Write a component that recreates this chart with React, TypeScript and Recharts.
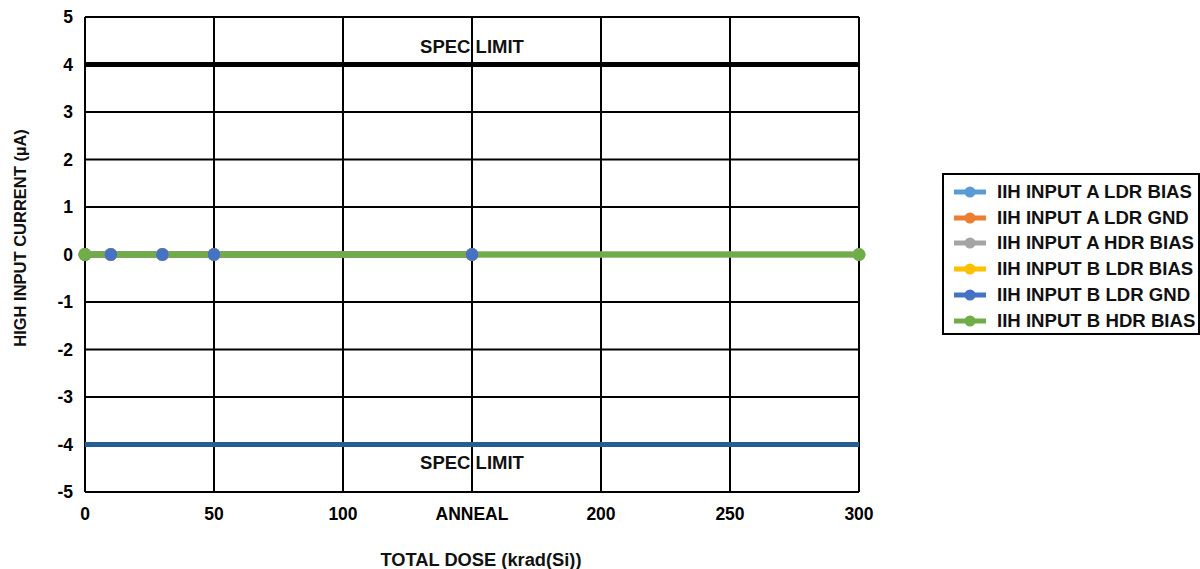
import React from 'react';
import { LineChart, Line, XAxis, YAxis, CartesianGrid, ReferenceLine } from 'recharts';

// Dose steps (krad(Si)); 150 is the anneal step
const ldrDoses = [0, 10, 30, 50, 150];
const hdrDoses = [0, 300];

const inputALdrBias = [0, 0, 0, 0, 0];
const inputALdrGnd = [0, 0, 0, 0, 0];
const inputAHdrBias = [0, 0];
const inputBLdrBias = [0, 0, 0, 0, 0];
const inputBLdrGnd = [0, 0, 0, 0, 0];
const inputBHdrBias = [0, 0];

const xTicks = [0, 50, 100, 150, 200, 250, 300];
const yTicks = [-5, -4, -3, -2, -1, 0, 1, 2, 3, 4, 5];
const specHigh = 4;
const specLow = -4;

const toPoints = (doses: number[], values: number[]) =>
  doses.map((dose, i) => ({ dose, value: values[i] }));

const series = [
  { name: 'IIH INPUT A LDR BIAS', color: '#5B9BD5', data: toPoints(ldrDoses, inputALdrBias) },
  { name: 'IIH INPUT A LDR GND', color: '#ED7D31', data: toPoints(ldrDoses, inputALdrGnd) },
  { name: 'IIH INPUT A HDR BIAS', color: '#A5A5A5', data: toPoints(hdrDoses, inputAHdrBias) },
  { name: 'IIH INPUT B LDR BIAS', color: '#FFC000', data: toPoints(ldrDoses, inputBLdrBias) },
  { name: 'IIH INPUT B LDR GND', color: '#4472C4', data: toPoints(ldrDoses, inputBLdrGnd) },
  { name: 'IIH INPUT B HDR BIAS', color: '#70AD47', data: toPoints(hdrDoses, inputBHdrBias) },
];

const font = 'Arial, "Liberation Sans", sans-serif';
const tickStyle = { fill: '#000', fontSize: 17.5, fontWeight: 700, fontFamily: font };

// legend sits outside the svg so it doesn't eat into the plot area
const LegendBox = () => (
  <div
    style={{
      position: 'absolute',
      left: 942,
      top: 173,
      boxSizing: 'border-box',
      width: 258,
      height: 162,
      border: '2px solid #000',
      padding: '4px 0 0 9px',
      background: '#fff',
      fontFamily: font,
      fontWeight: 700,
      fontSize: 18.6,
      color: '#111',
    }}
  >
    {series.map((s) => (
      <div key={s.name} style={{ display: 'flex', alignItems: 'center', height: 25.8 }}>
        <svg width={34} height={14} style={{ marginRight: 10 }}>
          <line x1={1} y1={7} x2={33} y2={7} stroke={s.color} strokeWidth={5} />
          <circle cx={17} cy={7} r={5.5} fill={s.color} />
        </svg>
        <span style={{ whiteSpace: 'nowrap' }}>{s.name}</span>
      </div>
    ))}
  </div>
);

const specLabel = (dy: number) => (props: any) => {
  const { x, y, width } = props.viewBox;
  return (
    <text
      x={x + width / 2}
      y={y + dy}
      textAnchor="middle"
      dominantBaseline="central"
      fill="#111"
      fontSize={18.5}
      fontWeight={700}
      fontFamily={font}
    >
      SPEC LIMIT
    </text>
  );
};

export default function App() {
  return (
    <div style={{ position: 'absolute', left: 0, top: 0, width: 1200, height: 569, background: '#fff' }}>
      <LineChart width={1200} height={569} margin={{ top: 17, right: 341, bottom: 0, left: 0 }}>
        <CartesianGrid stroke="#000" strokeWidth={2} />
        <XAxis
          dataKey="dose"
          type="number"
          domain={[0, 300]}
          ticks={xTicks}
          interval={0}
          height={77}
          axisLine={false}
          tickLine={false}
          tickMargin={10}
          tick={tickStyle}
          tickFormatter={(v: number) => (v === 150 ? 'ANNEAL' : String(v))}
          label={{
            value: 'TOTAL DOSE (krad(Si))',
            position: 'insideBottom',
            offset: 3,
            dx: 9,
            fill: '#111',
            fontSize: 18.3,
            fontWeight: 700,
            fontFamily: font,
          }}
        />
        <YAxis
          type="number"
          domain={[-5, 5]}
          ticks={yTicks}
          interval={0}
          width={85}
          axisLine={false}
          tickLine={false}
          tickMargin={6}
          tick={tickStyle}
          label={() => (
            <text
              transform="translate(20, 238) rotate(-90)"
              textAnchor="middle"
              dominantBaseline="central"
              fill="#111"
              fontSize={16.5}
              fontWeight={700}
              fontFamily={font}
            >
              HIGH INPUT CURRENT (µA)
            </text>
          )}
        />
        <ReferenceLine y={specHigh} stroke="#000" strokeWidth={5} label={specLabel(-18)} />
        <ReferenceLine y={specLow} stroke="#255E91" strokeWidth={5} label={specLabel(18)} />
        {series.map((s) => (
          <Line
            key={s.name}
            data={s.data}
            dataKey="value"
            name={s.name}
            type="linear"
            stroke={s.color}
            strokeWidth={6}
            dot={{ r: 6.5, fill: s.color, stroke: s.color, strokeWidth: 0 }}
            isAnimationActive={false}
          />
        ))}
      </LineChart>
      <LegendBox />
    </div>
  );
}
